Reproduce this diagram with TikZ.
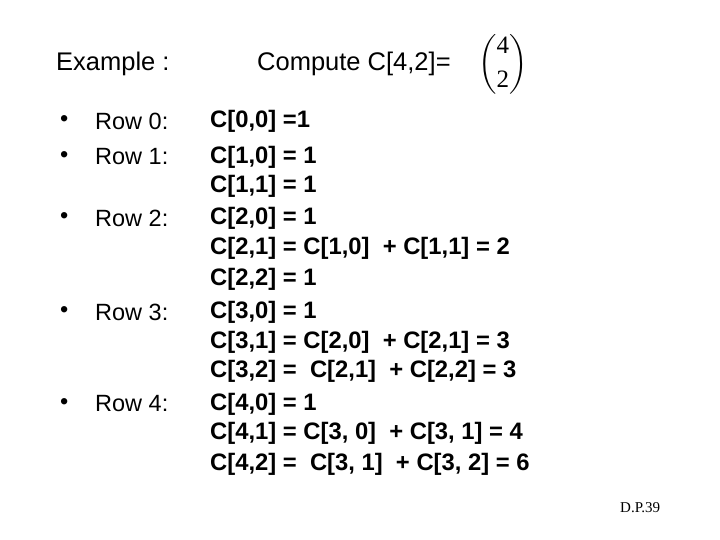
\documentclass[tikz,border=0pt]{standalone}
\usepackage{amsmath}
\usepackage{fontspec}
\setmainfont{Liberation Sans}
\newfontfamily\serifx{Liberation Serif}
\begin{document}
\begin{tikzpicture}[x=1pt,y=-1pt,
  t/.style={anchor=west,inner sep=0pt,font=\fontsize{23.5}{26}\selectfont},
  b/.style={anchor=west,inner sep=0pt,font=\fontsize{23.8}{26}\selectfont\bfseries},
  h/.style={anchor=west,inner sep=0pt,font=\fontsize{25.5}{28}\selectfont}]
\useasboundingbox (0,0) rectangle (720,540);
\node[h] (ex) at (56,64) {Example :};
\node[h] (cp) at (257,64) {Compute C[4,2]=};
\node[anchor=west,inner sep=0pt] (bn) at (478,64) {\fontsize{25}{28}\selectfont$\displaystyle\binom{\text{\serifx 4}}{\text{\serifx 2}}$};
\foreach \y/\s in {121/0,157/1,218/2,312/3,404/4}{
  \node[t] (u\s) at (60,\y) {\textbullet};
  \node[t] (r\s) at (95,\y) {Row \s:};
}
\foreach \y/\s [count=\i] in {121/{C[0,0] =1},157/{C[1,0] = 1},186/{C[1,1] = 1},218/{C[2,0] = 1},
  248/{C[2,1] = C[1,0]\ \ + C[1,1] = 2},279/{C[2,2] = 1},312/{C[3,0] = 1},
  342/{C[3,1] = C[2,0]\ \ + C[2,1] = 3},371/{C[3,2] =\ \ C[2,1]\ \ + C[2,2] = 3},
  404/{C[4,0] = 1},433/{C[4,1] = C[3, 0]\ \ + C[3, 1] = 4},464/{C[4,2] =\ \ C[3, 1]\ \ + C[3, 2] = 6}}{
  \node[b] (c\i) at (210,\y) {\s};
}
\node[anchor=west,inner sep=0pt,font=\serifx\fontsize{15}{17}\selectfont] (dp) at (620,508) {D.P.39};
\end{tikzpicture}
\end{document}
